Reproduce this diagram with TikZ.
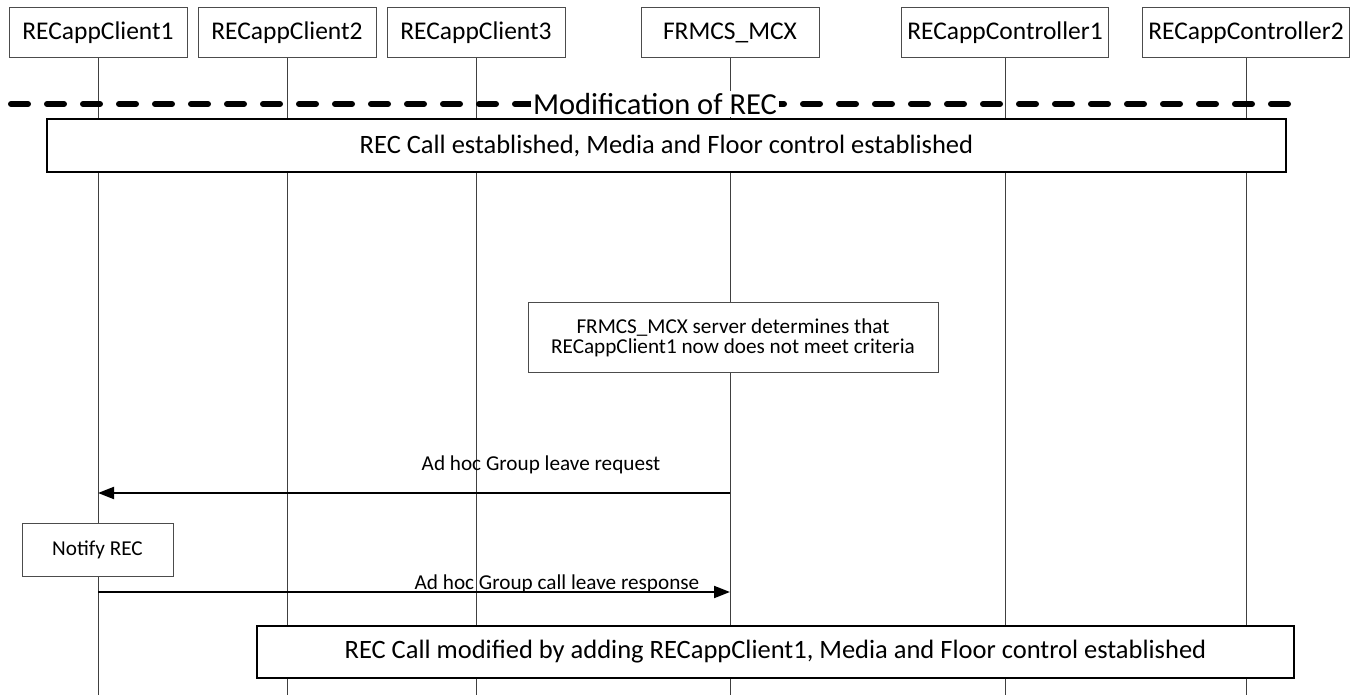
\documentclass[tikz,border=0pt]{standalone}
\usepackage{fontspec}
\setmainfont{Carlito}
\usetikzlibrary{arrows.meta, positioning}
\tikzset{party/.style={draw=black!70, fill=white, line width=0.5pt, minimum width=89pt, minimum height=25pt, inner xsep=3pt, font=\fontsize{12.75}{15}\selectfont}}
\tikzset{phase/.style={draw, fill=white, line width=1.3pt, minimum height=26pt, font=\fontsize{13.25}{16}\selectfont}}
\tikzset{action/.style={draw=black!70, fill=white, line width=0.5pt, align=center, font=\fontsize{10.6}{10}\selectfont}}
\tikzset{msg/.style={line width=1pt, -{Triangle[length=8pt,width=6pt]}}}
\tikzset{msglabel/.style={font=\fontsize{10.6}{13}\selectfont, inner sep=0pt, anchor=base}}

\begin{document}
\begin{tikzpicture}[x=0.5pt, y=-0.5pt]
	\useasboundingbox (0,0) rectangle (1361,695);
	% participants
	\node[party] (client1) at (98,33) {RECappClient1};
	\node[party] (client2) at (287,33) {RECappClient2};
	\node[party] (client3) at (476,33) {RECappClient3};
	\node[party] (mcx) at (730,33) {FRMCS\_MCX};
	\node[party] (ctrl1) at (1005,33) {RECappController1};
	\node[party] (ctrl2) at (1246,33) {RECappController2};
	% lifelines
	\coordinate (client1end) at (98,695);
	\coordinate (client2end) at (287,695);
	\coordinate (client3end) at (476,695);
	\coordinate (mcxend) at (730,695);
	\coordinate (ctrl1end) at (1005,695);
	\coordinate (ctrl2end) at (1246,695);
	\draw[black!75, line width=0.5pt] (client1) -- (client1end);
	\draw[black!75, line width=0.5pt] (client2) -- (client2end);
	\draw[black!75, line width=0.5pt] (client3) -- (client3end);
	\draw[black!75, line width=0.5pt] (mcx) -- (mcxend);
	\draw[black!75, line width=0.5pt] (ctrl1) -- (ctrl1end);
	\draw[black!75, line width=0.5pt] (ctrl2) -- (ctrl2end);
	% Modification of REC
	\coordinate (modstart) at (11,104);
	\coordinate (modend) at (1289,104);
	\draw[line width=3pt, line cap=round, dash pattern=on 8.5pt off 9.5pt] (modstart) -- (modend);
	\node[fill=white, inner sep=1pt, font=\fontsize{15.25}{18}\selectfont] (modlabel) at (655,104) {Modification of REC};
	\node[phase, minimum width=619.5pt, minimum height=26.5pt] (established) at (666.5,145.5) {REC Call established, Media and Floor control established};
	\node[action, minimum width=205pt, minimum height=35pt] (determine) at (733,338) {FRMCS\_MCX server determines that\\RECappClient1 now does not meet criteria};
	% leave request
	\coordinate (reqfrom) at (730,493);
	\coordinate (reqto) at (98,493);
	\draw[msg] (reqfrom) -- (reqto);
	\node[msglabel] (reqlabel) at (541,470) {Ad hoc Group leave request};
	\node[action, minimum width=75.5pt, minimum height=26.5pt] (notify) at (97.5,549.5) {Notify REC};
	% leave response
	\coordinate (respfrom) at (98,592);
	\coordinate (respto) at (730,592);
	\draw[msg] (respfrom) -- (respto);
	\node[msglabel] (resplabel) at (557,589) {Ad hoc Group call leave response};
	\node[phase, minimum width=518.5pt, minimum height=26pt] (modified) at (775.5,652) {REC Call modified by adding RECappClient1, Media and Floor control established};
\end{tikzpicture}
\end{document}
